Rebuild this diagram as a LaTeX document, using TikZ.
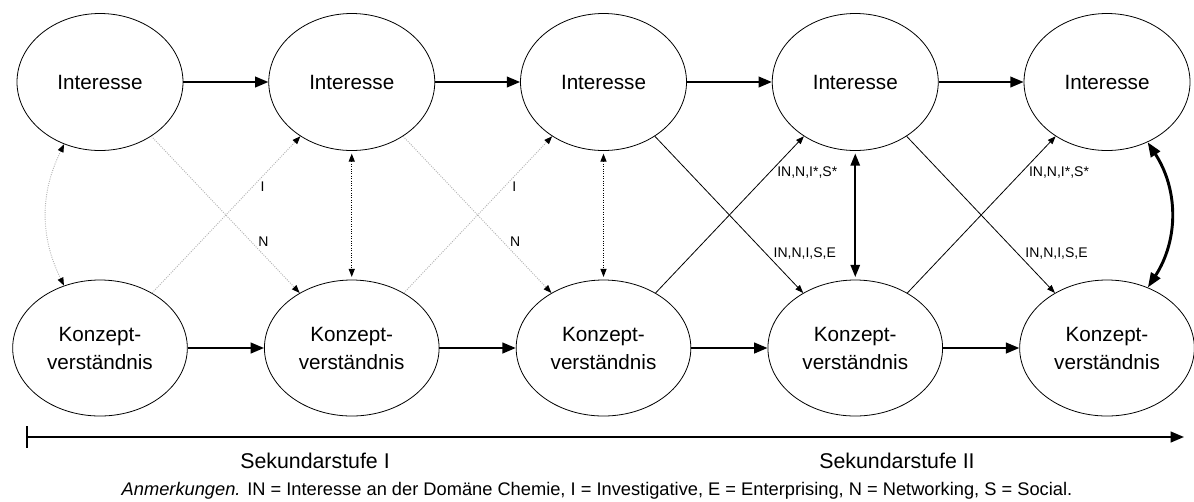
\documentclass[tikz,border=0pt]{standalone}
\usepackage{fontspec}
\setmainfont{Liberation Sans}
\usetikzlibrary{arrows.meta,shapes.geometric}

\begin{document}
\begin{tikzpicture}[x=0.75pt,y=-0.75pt,
        construct/.style={draw,ellipse,line width=0.6pt,align=center,
            font=\fontsize{15.5pt}{21pt}\selectfont},
        interest/.style={construct,minimum width=124.5pt,minimum height=102.75pt},
        concept/.style={construct,minimum width=131pt,minimum height=102pt},
        path/.style={-{Triangle[length=10pt,width=8pt]},line width=1.5pt},
        weak/.style={{Triangle[length=6pt,width=4.5pt,black]}-{Triangle[length=6pt,width=4.5pt,black]},
            gray!60,densely dotted,line width=0.7pt},
        medium/.style={{Triangle[length=6pt,width=4.5pt]}-{Triangle[length=6pt,width=4.5pt]},
            densely dotted,line width=0.8pt,shorten <=2pt,shorten >=2pt},
        crossweak/.style={-{Triangle[length=6pt,width=4.5pt,black]},gray!60,densely dotted,line width=0.7pt},
        cross/.style={-{Triangle[length=6pt,width=4.5pt]},line width=0.6pt},
        lbl/.style={font=\fontsize{10.5pt}{12pt}\selectfont,text=black,anchor=west,xshift=2pt},
        stage/.style={font=\fontsize{16pt}{19pt}\selectfont}]
        \useasboundingbox (0,0) rectangle (1194,501);

        % first row
        \node[interest] (t1) at (100,82)    {Interesse};
        \node[interest] (t2) at (351.75,82) {Interesse};
        \node[interest] (t3) at (603.5,82)  {Interesse};
        \node[interest] (t4) at (855.25,82) {Interesse};
        \node[interest] (t5) at (1107,82)   {Interesse};

        % second row
        \node[concept] (b1) at (100,348)    {Konzept-\\verständnis};
        \node[concept] (b2) at (351.75,348) {Konzept-\\verständnis};
        \node[concept] (b3) at (603.5,348)  {Konzept-\\verständnis};
        \node[concept] (b4) at (855.25,348) {Konzept-\\verständnis};
        \node[concept] (b5) at (1107,348)   {Konzept-\\verständnis};

        \draw[path] (t1) -- (t2);
        \draw[path] (t2) -- (t3);
        \draw[path] (t3) -- (t4);
        \draw[path] (t4) -- (t5);
        \draw[path] (b1) -- (b2);
        \draw[path] (b2) -- (b3);
        \draw[path] (b3) -- (b4);
        \draw[path] (b4) -- (b5);

        % correlations
        \draw[weak] (t1.240) to[bend right=26] (b1.120);
        \draw[medium] (t2) -- (b2);
        \draw[medium] (t3) -- (b3);
        \draw[{Triangle[length=9pt,width=7pt]}-{Triangle[length=9pt,width=7pt]},line width=1.3pt,
            shorten <=2pt,shorten >=2pt] (t4) -- (b4);
        \draw[{Triangle[length=11pt,width=8pt]}-{Triangle[length=11pt,width=8pt]},line width=2.2pt]
            (t5.304) to[bend left=33] (b5.56);

        % cross-lagged
        \draw[crossweak] (t1) -- node[lbl,pos=0.67] {N} (b2);
        \draw[crossweak] (b1) -- node[lbl,pos=0.68] {I} (t2);
        \draw[crossweak] (t2) -- node[lbl,pos=0.67] {N} (b3);
        \draw[crossweak] (b2) -- node[lbl,pos=0.68] {I} (t3);
        \draw[cross] (t3) -- node[lbl,pos=0.75] {IN,N,I,S,E} (b4);
        \draw[cross] (b3) -- node[lbl,pos=0.77] {IN,N,I*,S*} (t4);
        \draw[cross] (t4) -- node[lbl,pos=0.75] {IN,N,I,S,E} (b5);
        \draw[cross] (b4) -- node[lbl,pos=0.77] {IN,N,I*,S*} (t5);

        % time line
        \coordinate (start) at (26,437);
        \coordinate (end) at (1184,437);
        \draw[{Bar[width=16pt]}-{Triangle[length=10pt,width=8pt]},line width=1.5pt] (start) -- (end);
        \node[stage] (sek1) at (315,461) {Sekundarstufe I};
        \node[stage] (sek2) at (897,461) {Sekundarstufe II};

        \node[font=\fontsize{13.7pt}{16pt}\selectfont] (note) at (597,491)
            {\textit{Anmerkungen.} IN = Interesse an der Domäne Chemie, I = Investigative, E = Enterprising, N = Networking, S = Social.};
    \end{tikzpicture}
\end{document}
